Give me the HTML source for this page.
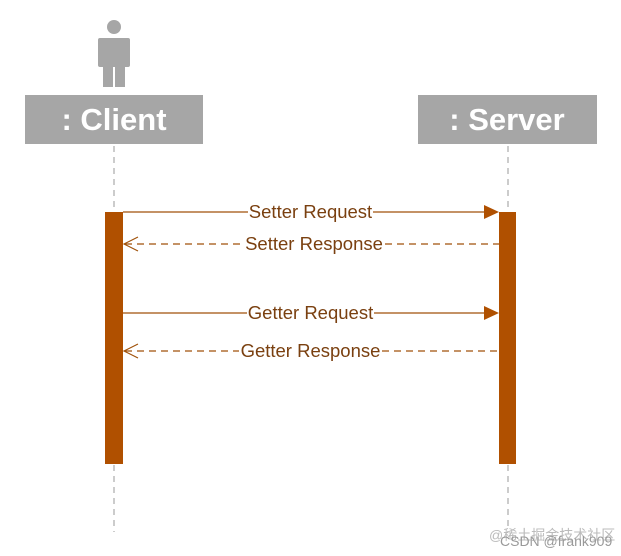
<!DOCTYPE html>
<html><head><meta charset="utf-8"><style>
html,body{margin:0;padding:0;background:#fff;}
svg{display:block;}
</style></head><body>
<svg width="621" height="556" viewBox="0 0 621 556" xmlns="http://www.w3.org/2000/svg">
<rect width="621" height="556" fill="#fff"/>
<circle cx="114" cy="27" r="7" fill="#a6a6a6"/>
<rect x="98" y="38" width="32" height="29" rx="2" fill="#a6a6a6"/>
<rect x="103" y="60" width="10" height="27" fill="#a6a6a6"/>
<rect x="115" y="60" width="10" height="27" fill="#a6a6a6"/>
<rect x="25" y="95" width="178" height="49" fill="#a6a6a6"/>
<text x="114" y="130" text-anchor="middle" font-family="Liberation Sans, sans-serif" font-weight="bold" font-size="31" fill="#fff">: Client</text>
<rect x="418" y="95" width="179" height="49" fill="#a6a6a6"/>
<text x="507" y="130" text-anchor="middle" font-family="Liberation Sans, sans-serif" font-weight="bold" font-size="31" fill="#fff">: Server</text>
<line x1="114" y1="146" x2="114" y2="532" stroke="#999" stroke-width="1" stroke-dasharray="6,5"/>
<line x1="508" y1="146" x2="508" y2="532" stroke="#999" stroke-width="1" stroke-dasharray="6,5"/>
<rect x="105" y="212" width="18" height="252" fill="#b05000"/>
<rect x="499" y="212" width="17" height="252" fill="#b05000"/>
<g font-family="Liberation Sans, sans-serif" font-size="18.5" fill="#7a4010" text-anchor="middle">
<line x1="123" y1="212" x2="248" y2="212" stroke="#a0520a" stroke-width="1.2"/>
<line x1="373" y1="212" x2="486" y2="212" stroke="#a0520a" stroke-width="1.2"/>
<polygon points="484,205 499,212 484,219" fill="#b05000"/>
<text x="310.5" y="218">Setter Request</text>
<line x1="125" y1="244" x2="244" y2="244" stroke="#a0520a" stroke-width="1.2" stroke-dasharray="7,5"/>
<line x1="385" y1="244" x2="499" y2="244" stroke="#a0520a" stroke-width="1.2" stroke-dasharray="7,5"/>
<polyline points="138,237 124,244 138,251" fill="none" stroke="#a0520a" stroke-width="1.2"/>
<text x="314" y="250">Setter Response</text>
<line x1="123" y1="313" x2="247" y2="313" stroke="#a0520a" stroke-width="1.2"/>
<line x1="374" y1="313" x2="486" y2="313" stroke="#a0520a" stroke-width="1.2"/>
<polygon points="484,306 499,313 484,320" fill="#b05000"/>
<text x="310.5" y="319">Getter Request</text>
<line x1="125" y1="351" x2="239" y2="351" stroke="#a0520a" stroke-width="1.2" stroke-dasharray="7,5"/>
<line x1="382" y1="351" x2="499" y2="351" stroke="#a0520a" stroke-width="1.2" stroke-dasharray="7,5"/>
<polyline points="138,344 124,351 138,358" fill="none" stroke="#a0520a" stroke-width="1.2"/>
<text x="310.5" y="357">Getter Response</text>
</g>
<text x="489" y="540" font-family="Liberation Sans, 'Noto Sans CJK SC', sans-serif" font-size="14" fill="#bbb">@稀土掘金技术社区</text>
<text x="500" y="546" font-family="Liberation Sans, sans-serif" font-size="14" fill="#999">CSDN @frank909</text>
</svg>
</body></html>
